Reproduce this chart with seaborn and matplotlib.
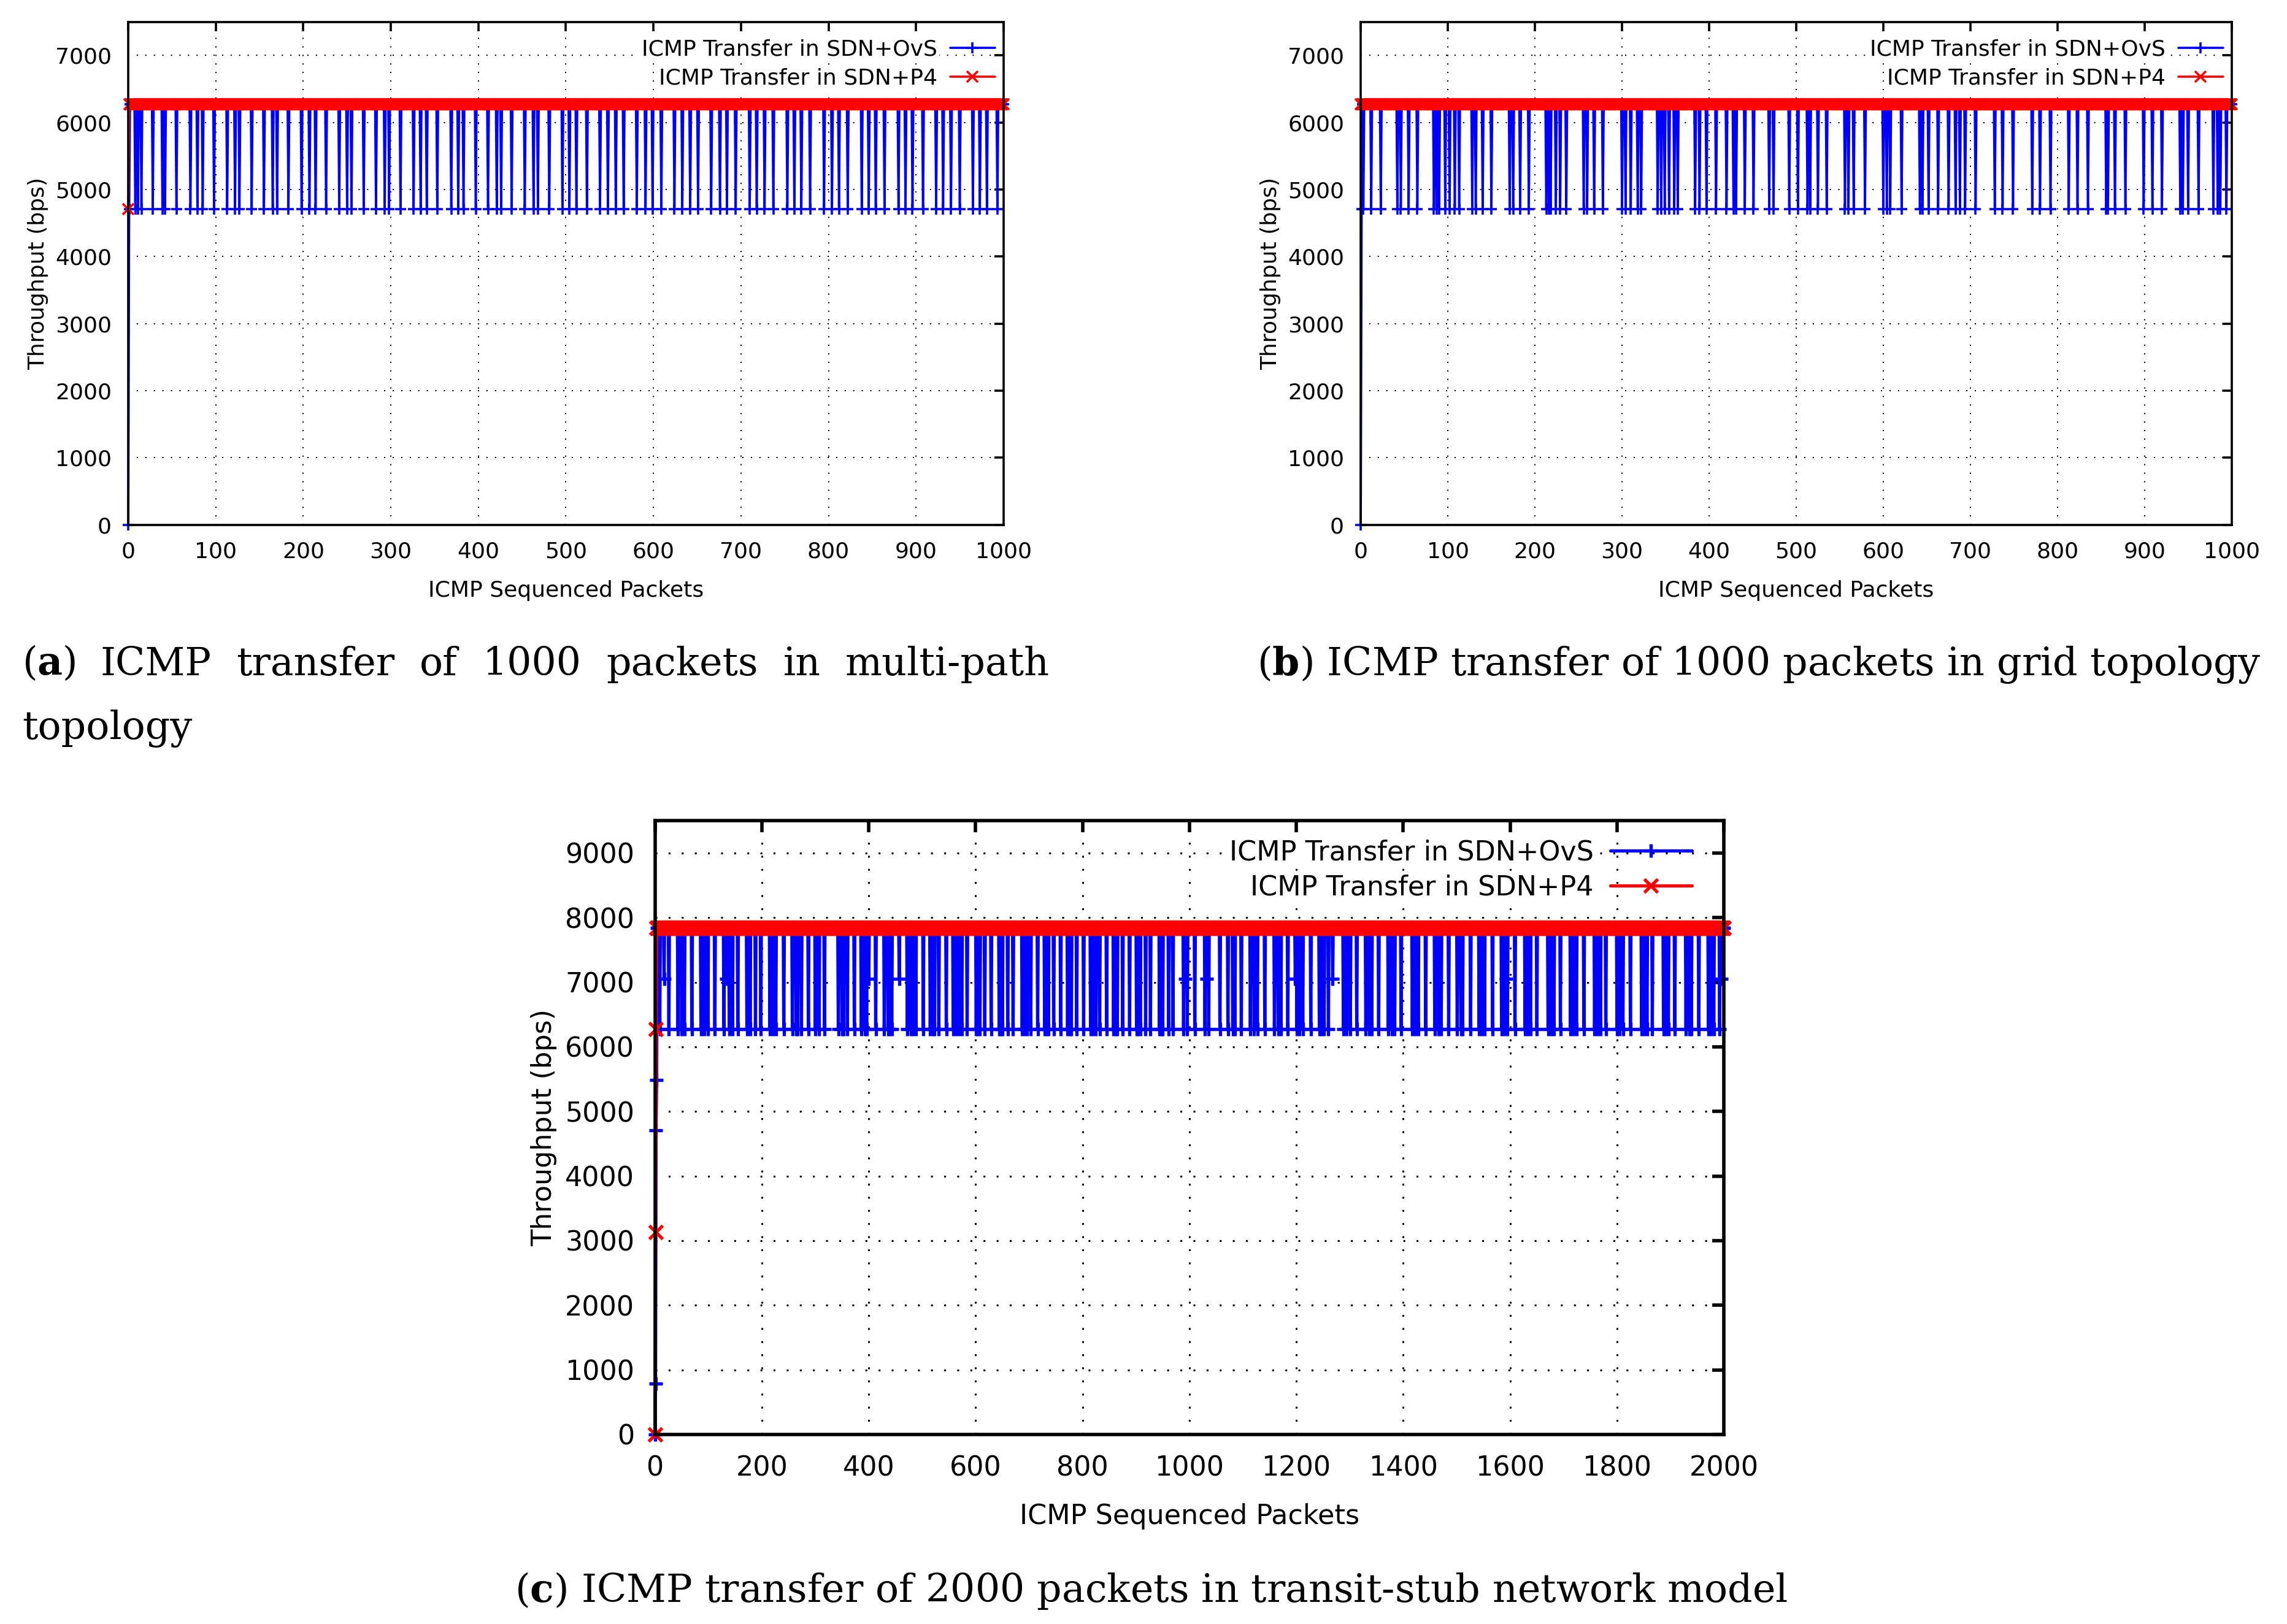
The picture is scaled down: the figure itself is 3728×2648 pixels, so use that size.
import numpy as np
import seaborn as sns
import matplotlib.pyplot as plt

# throughput levels (bps)
HIGH_AB = 6272
LOW_AB = 4704
HIGH_C = 7840
LOW_C = 6272
MID_C = 7056

# first samples at the left edge of each trace
ovs_start_a = [0, 4704]
p4_start_a = [4704]
ovs_start_b = [0, 4704]
p4_start_b = [6272]
ovs_start_c = [0, 784, 4704, 5488]
p4_start_c = [0, 3136, 6272]

# packet numbers where the OvS trace drops to the low level
dips_a = [8, 11, 15, 28, 39, 42, 55,
          71, 79, 85, 98, 113, 122, 127, 141, 155, 165, 170, 183,
          198, 207, 214, 226, 241, 250, 255, 269, 283, 293, 298, 311,
          326, 334, 341, 353, 369, 377, 383, 397, 411, 421, 426, 438,
          453, 463, 468, 481, 496, 504, 512, 524, 539, 548, 557, 566,
          581, 591, 599, 609, 624, 633, 642, 651, 666, 676, 684, 694,
          710, 718, 727, 737, 753, 761, 769, 779, 795, 804, 812, 822,
          838, 846, 854, 864, 880, 888, 896, 908, 923, 931, 940, 950,
          965, 973, 981, 993]

dips_b = [3, 12, 23, 42, 46, 55, 65, 84, 87, 90, 97, 102, 108, 113,
          128, 132, 140, 150, 171, 175, 183, 193, 213, 216, 218, 224,
          229, 236, 256, 260, 268, 278, 300, 304, 310, 318, 322, 341,
          345, 349, 354, 360, 364, 384, 389, 397, 408, 420, 428, 431,
          441, 451, 469, 474, 492, 502, 513, 516, 525, 535, 556, 560,
          566, 579, 600, 604, 608, 621, 642, 645, 652, 663, 675, 683,
          688, 694, 706, 728, 737, 749, 771, 780, 792, 813, 823, 835,
          856, 858, 866, 878, 899, 909, 920, 941, 944, 950, 962, 979,
          984, 987, 994]

dips_c = [9, 26, 43, 50, 55, 69, 86, 92, 99, 112, 129, 139, 145, 155,
          172, 178, 188, 198, 215, 221, 226, 241, 257, 264, 267, 274,
          287, 300, 307, 317, 343, 350, 353, 360, 373, 386, 393, 396,
          413, 429, 436, 439, 443, 472, 479, 482, 488, 502, 515, 520,
          523, 531, 545, 558, 563, 568, 574, 584, 601, 604, 608, 617,
          629, 644, 647, 650, 660, 670, 687, 691, 696, 703, 716, 729,
          733, 736, 746, 759, 772, 776, 779, 789, 802, 815, 820, 825,
          832, 845, 858, 862, 865, 875, 888, 901, 904, 908, 918, 927,
          944, 947, 950, 961, 969, 989, 996, 1010, 1029, 1036, 1057,
          1072, 1081, 1085, 1097, 1114, 1121, 1127, 1141, 1159, 1166,
          1171, 1184, 1201, 1206, 1212, 1227, 1243, 1247, 1252, 1260,
          1288, 1294, 1301, 1313, 1330, 1336, 1341, 1354, 1372, 1379,
          1384, 1396, 1417, 1422, 1428, 1442, 1459, 1466, 1471, 1485,
          1501, 1508, 1511, 1526, 1542, 1547, 1552, 1567, 1584, 1589,
          1595, 1609, 1628, 1633, 1638, 1650, 1671, 1677, 1682, 1694,
          1713, 1719, 1724, 1738, 1758, 1763, 1769, 1779, 1800, 1805,
          1811, 1825, 1846, 1851, 1856, 1866, 1887, 1891, 1896, 1908,
          1929, 1935, 1939, 1953, 1971, 1976, 1981, 1992]
# packets where the OvS trace only drops to the middle level
mid_c = [17, 133, 400, 457, 992, 1032, 1198, 1268, 1592, 1995]

N_AB = 1000
N_C = 2000

LABEL_OVS = 'ICMP Transfer in SDN+OvS'
LABEL_P4 = 'ICMP Transfer in SDN+P4'


def build(n, high, start, low=None, dips=(), mid=None, mids=()):
    y = np.full(n + 1, high, dtype=float)
    if low is not None:
        y[list(dips)] = low
    if mid is not None:
        y[list(mids)] = mid
    y[:len(start)] = start
    return y


x_ab = np.arange(N_AB + 1)
x_c = np.arange(N_C + 1)
ovs_a = build(N_AB, HIGH_AB, ovs_start_a, LOW_AB, dips_a)
p4_a = build(N_AB, HIGH_AB, p4_start_a)
ovs_b = build(N_AB, HIGH_AB, ovs_start_b, LOW_AB, dips_b)
p4_b = build(N_AB, HIGH_AB, p4_start_b)
ovs_c = build(N_C, HIGH_C, ovs_start_c, LOW_C, dips_c, MID_C, mid_c)
p4_c = build(N_C, HIGH_C, p4_start_c)

sns.set_style('white')
plt.rcParams['font.family'] = ['DejaVu Sans']
plt.rcParams['mathtext.fontset'] = 'dejavuserif'
for k in ['text.color', 'axes.labelcolor', 'xtick.color', 'ytick.color']:
    plt.rcParams[k] = 'black'

fig = plt.figure(figsize=(18.64, 13.24), dpi=200)


def panel(rect, x, ovs, p4, xmax, xstep, ymax, fs, lw, ms, spw, tl,
          anchor, hl, lspace):
    ax = fig.add_axes(rect)
    sns.lineplot(x=x, y=ovs, ax=ax, color='#0000ff', lw=lw, marker='+',
                 markersize=ms, markeredgewidth=lw, markeredgecolor='#0000ff',
                 errorbar=None, label=LABEL_OVS, clip_on=False)
    sns.lineplot(x=x, y=p4, ax=ax, color='#ff0000', lw=lw, marker='x',
                 markersize=ms, markeredgewidth=lw, markeredgecolor='#ff0000',
                 errorbar=None, label=LABEL_P4, clip_on=False)
    ax.set_xlim(0, xmax)
    ax.set_ylim(0, ymax)
    ax.set_xticks(np.arange(0, xmax + 1, xstep))
    ax.set_yticks(np.arange(0, ymax, 1000))
    ax.grid(True, color='black', ls=(0, (1, 6)), lw=spw * 0.55)
    ax.set_axisbelow(True)
    ax.tick_params(direction='in', top=True, right=True, length=tl,
                   width=spw, labelsize=fs, pad=fs * 0.75)
    for s in ax.spines.values():
        s.set_linewidth(spw)
        s.set_color('black')
    ax.set_xlabel('ICMP Sequenced Packets', fontsize=fs, labelpad=fs * 0.8)
    ax.set_ylabel('Throughput (bps)', fontsize=fs, labelpad=fs * 0.3)
    # gnuplot style key: text right-aligned before the sample
    leg = ax.legend(loc='upper right', bbox_to_anchor=anchor, frameon=False,
                    markerfirst=False, fontsize=fs, handlelength=hl,
                    handletextpad=0.6, borderaxespad=0, borderpad=0,
                    labelspacing=lspace)
    for t in leg.get_texts():
        t.set_bbox(dict(facecolor='white', edgecolor='none', pad=1))
    try:
        for col in leg._legend_handle_box.get_children():
            col.align = 'right'
    except AttributeError:
        pass
    return ax


panel([0.0561, 0.6768, 0.3827, 0.3097], x_ab, ovs_a, p4_a, N_AB, 100, 7500,
      13, 1.3, 6.2, 1.3, 5.5, (0.99, 0.966), 2.0, 0.36)
panel([0.595, 0.6768, 0.3808, 0.3097], x_ab, ovs_b, p4_b, N_AB, 100, 7500,
      13, 1.3, 6.2, 1.3, 5.5, (0.99, 0.966), 2.0, 0.36)
panel([0.2864, 0.1167, 0.4674, 0.3779], x_c, ovs_c, p4_c, N_C, 200, 9500,
      16, 1.9, 8, 2.0, 7, (0.97, 0.970), 3.0, 0.33)

CAP_FS = 22.8
r = fig.canvas.get_renderer()


def justified(words, x0, x1, y):
    texts = [fig.text(0, y, w, fontsize=CAP_FS, family='DejaVu Serif',
                      va='baseline') for w in words]
    widths = [t.get_window_extent(r).width / fig.bbox.width for t in texts]
    gap = (x1 - x0 - sum(widths)) / (len(words) - 1)
    xx = x0
    for t, w in zip(texts, widths):
        t.set_x(xx)
        xx += w + gap


justified([r'($\mathbf{a}$)', 'ICMP', 'transfer', 'of', '1000', 'packets', 'in',
           'multi-path'], 0.0096, 0.459, 0.5844)
fig.text(0.0096, 0.5450, 'topology', fontsize=CAP_FS, family='DejaVu Serif',
         va='baseline')
fig.text(0.5497, 0.5844, r'($\mathbf{b}$) ICMP transfer of 1000 packets in grid topology',
         fontsize=CAP_FS, family='DejaVu Serif', va='baseline')
fig.text(0.5035, 0.0135, r'($\mathbf{c}$) ICMP transfer of 2000 packets in transit-stub network model',
         fontsize=CAP_FS, family='DejaVu Serif', va='baseline', ha='center')

fig.savefig('out.png', dpi=200)
